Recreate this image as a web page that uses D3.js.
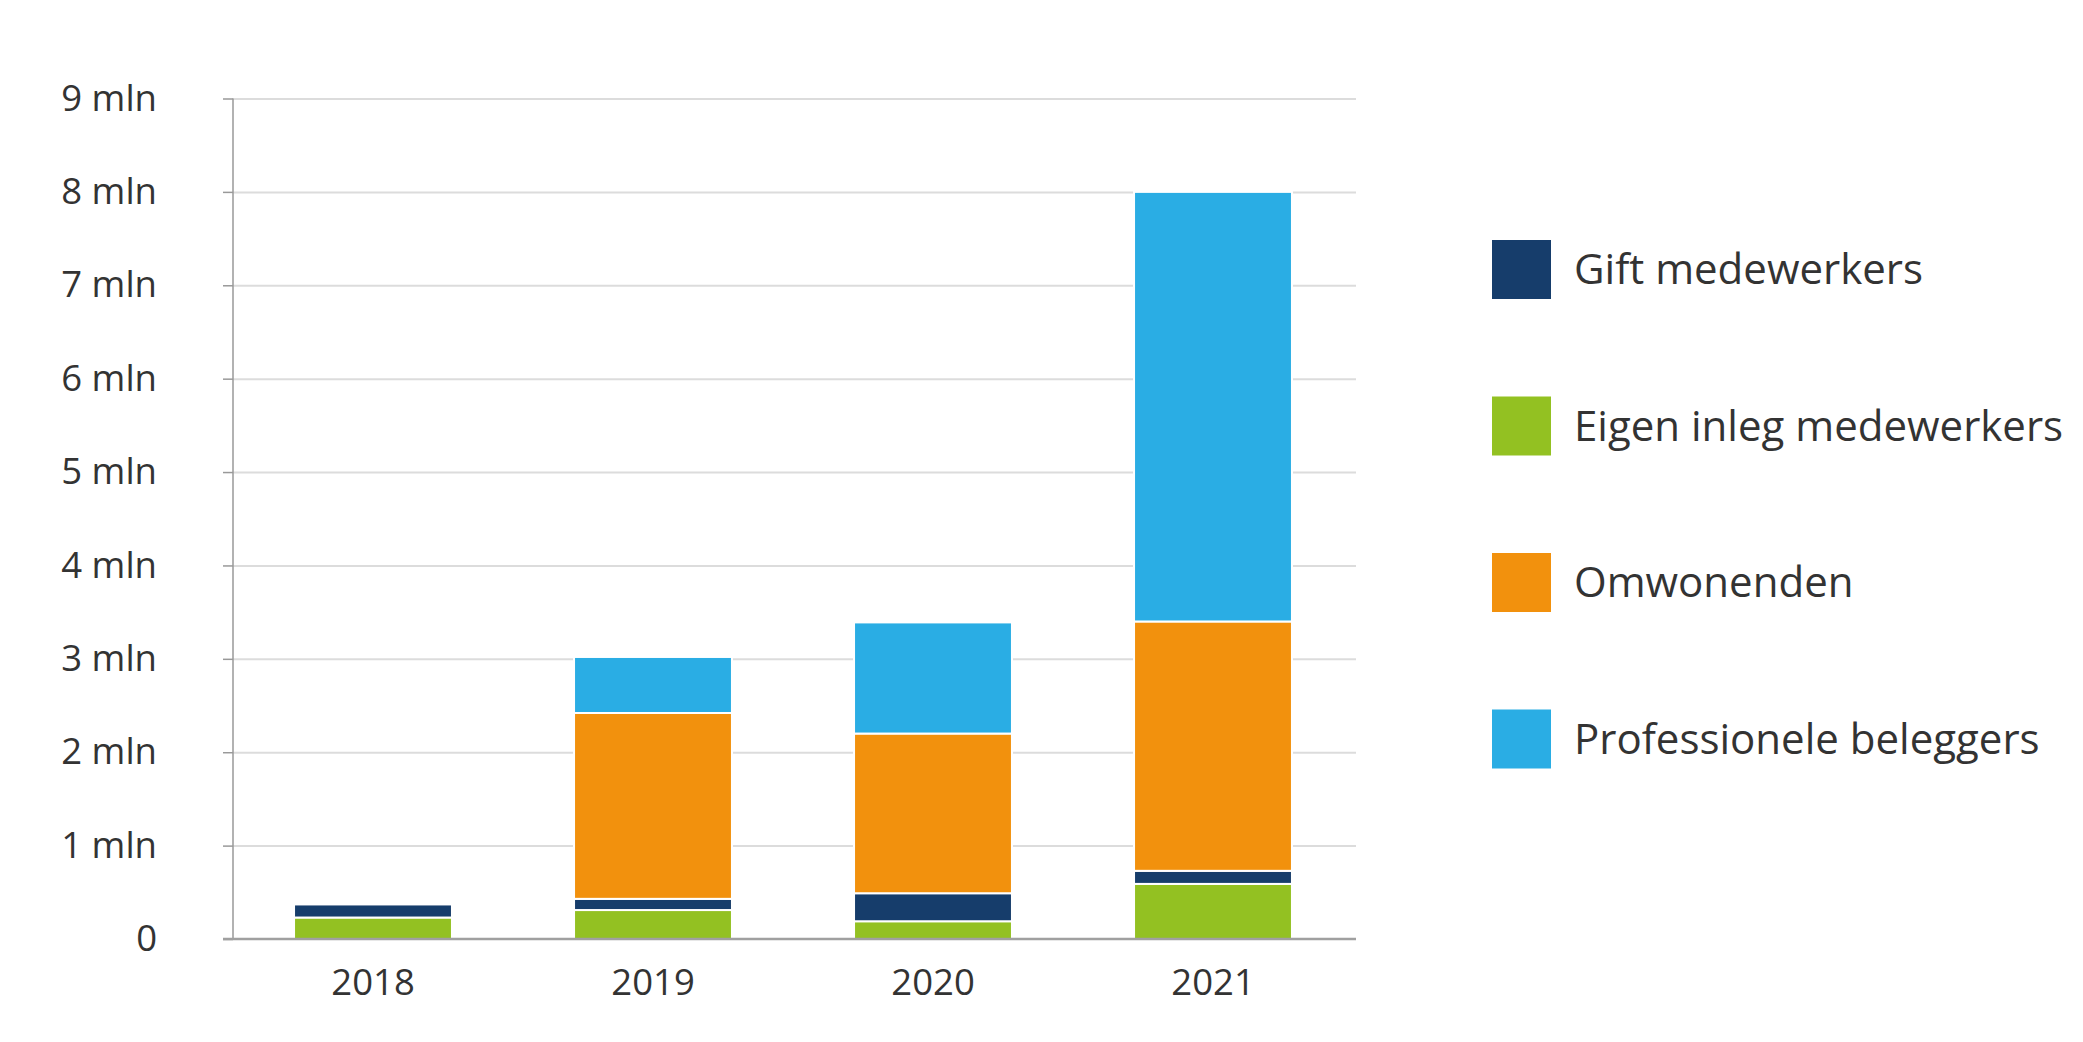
<!DOCTYPE html>
<html>
<head>
<meta charset="utf-8">
<script src="https://cdn.jsdelivr.net/npm/d3@7"></script>
<style>
  body { margin: 0; background: #fff; }
  text { font-family: "Open Sans", sans-serif; fill: #333; }
</style>
</head>
<body>
<script>
var width = 2083;
var height = 1042;

// data, in mln
var years = ["2018", "2019", "2020", "2021"];
var eigenInleg = [0.23, 0.31, 0.19, 0.59];
var giftMedewerkers = [0.14, 0.12, 0.30, 0.14];
var omwonenden = [0, 1.99, 1.71, 2.67];
var professioneel = [0, 0.60, 1.19, 4.60];
var yTicks = [0, 1, 2, 3, 4, 5, 6, 7, 8, 9];

var seriesKeys = ["eigen", "gift", "omw", "prof"];
var seriesNames = {
  gift: "Gift medewerkers",
  eigen: "Eigen inleg medewerkers",
  omw: "Omwonenden",
  prof: "Professionele beleggers"
};
var colors = { gift: "#163d6b", eigen: "#93c122", omw: "#f2910d", prof: "#2aade4" };
var legendOrder = ["gift", "eigen", "omw", "prof"];

var rows = years.map(function (y, i) {
  return { year: y, eigen: eigenInleg[i], gift: giftMedewerkers[i], omw: omwonenden[i], prof: professioneel[i] };
});

// plot edges (not "top": that name is taken by window.top)
var plotLeft = 233, plotRight = 1356, plotTop = 98.5, plotBottom = 939;

var vis = d3.select("body").append("svg")
  .attr("width", width).attr("height", height);

var x = d3.scaleBand().domain(years).range([plotLeft, 1353]).paddingInner(0.436).paddingOuter(0.218);
var y = d3.scaleLinear().domain([0, 9]).range([plotBottom, plotTop]);

// gridlines
vis.append("g")
  .attr("transform", "translate(" + plotLeft + ",0)")
  .call(d3.axisLeft(y).tickValues(yTicks.slice(1)).tickSize(-(plotRight - plotLeft)).tickFormat(""))
  .call(function (g) { g.select(".domain").remove(); })
  .selectAll("line").attr("stroke", "#dcdcdc").attr("stroke-width", 2);

// y axis
var yAxis = vis.append("g")
  .attr("transform", "translate(" + plotLeft + ",0)")
  .call(d3.axisLeft(y).tickValues(yTicks).tickSize(10).tickPadding(66)
    .tickFormat(function (d) { return d === 0 ? "0" : d + " mln"; }));
yAxis.select(".domain").attr("stroke", "#999").attr("stroke-width", 1.5).attr("d", "M0," + plotTop + "V" + plotBottom);
yAxis.selectAll("line").attr("stroke", "#999").attr("stroke-width", 1.5);
yAxis.selectAll("text").style("font-size", "36.5px").style("font-family", "Open Sans").attr("fill", "#333");

// stacked bars
var stack = d3.stack().keys(seriesKeys)(rows);
vis.append("g").selectAll("g").data(stack).enter().append("g")
  .attr("fill", function (d) { return colors[d.key]; })
  .selectAll("rect").data(function (d) { return d.filter(function (s) { return s[1] - s[0] > 0; }); }).enter()
  .append("rect")
  .attr("x", function (d) { return x(d.data.year); })
  .attr("width", x.bandwidth())
  .attr("y", function (d) { return y(d[1]); })
  .attr("height", function (d) { return y(d[0]) - y(d[1]); })
  .attr("stroke", "#fff")
  .attr("stroke-width", 2);

// baseline
vis.append("line")
  .attr("x1", 223).attr("x2", plotRight)
  .attr("y1", y(0)).attr("y2", y(0))
  .attr("stroke", "#a0a0a0").attr("stroke-width", 2.5);

// x labels
var xAxis = vis.append("g")
  .attr("transform", "translate(0," + plotBottom + ")")
  .call(d3.axisBottom(x).tickSize(0));
xAxis.select(".domain").remove();
xAxis.selectAll("text").attr("y", 56).attr("dy", 0)
  .style("font-size", "36.5px").style("font-family", "Open Sans").attr("fill", "#333");

// legend
var legend = vis.append("g").selectAll("g").data(legendOrder).enter().append("g")
  .attr("transform", function (d, i) { return "translate(1492," + (240 + i * 156.5) + ")"; });
legend.append("rect").attr("width", 59).attr("height", 59)
  .attr("fill", function (d) { return colors[d]; });
legend.append("text").attr("x", 82).attr("y", 44)
  .style("font-size", "42px")
  .text(function (d) { return seriesNames[d]; });
</script>
</body>
</html>
